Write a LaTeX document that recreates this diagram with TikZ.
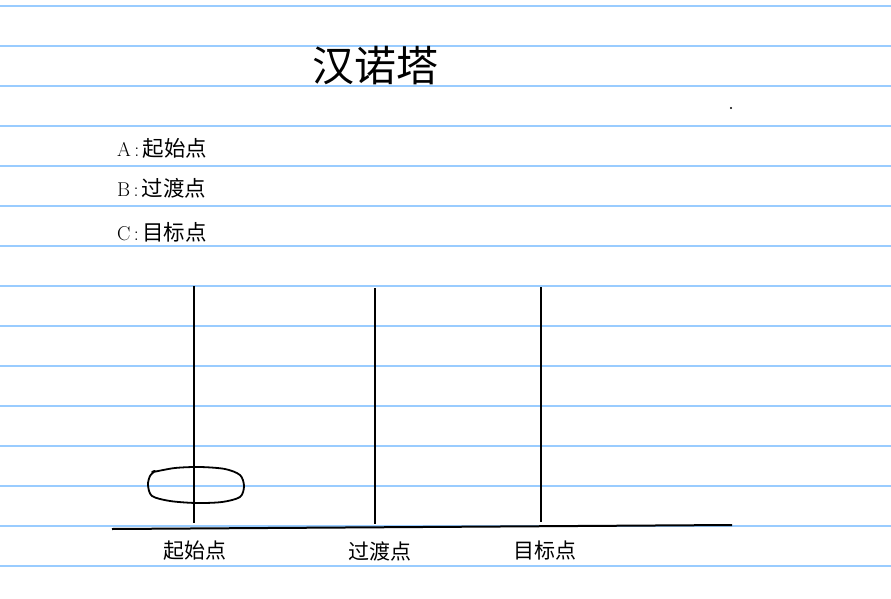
\documentclass[tikz,border=0pt]{standalone}
\usepackage{fontspec}
\newfontfamily\cjk{Noto Sans CJK SC}
\definecolor{rule}{HTML}{99CCFF}

\begin{document}
\begin{tikzpicture}[x=1pt,y=-1pt,
    pole/.style={line width=1.8pt},
    legend/.style={anchor=west,inner sep=0pt,font=\fontsize{20}{20}\selectfont},
    base/.style={inner sep=0pt,font=\cjk\fontsize{21}{21}\selectfont}]
    \useasboundingbox (0,0) rectangle (891,599);
    \fill[white] (0,0) rectangle (891,599);

    % ruled paper
    \foreach \y in {6,46,...,566}
    \draw[rule,line width=1.2pt] (0,\y) -- (891,\y);

    \node[inner sep=0pt,font=\cjk\fontsize{42}{42}\selectfont] (title) at (375,66) {汉诺塔};
    \fill (731,108) circle (1.2);

    \node[legend] (la) at (117,148) {A\,:\,{\cjk\fontsize{21.5}{21.5}\selectfont 起始点}};
    \node[legend] (lb) at (117,188) {B\,:\,{\cjk\fontsize{21.5}{21.5}\selectfont 过渡点}};
    \node[legend] (lc) at (117,232) {C\,:\,{\cjk\fontsize{21.5}{21.5}\selectfont 目标点}};

    % poles and base
    \coordinate (gl) at (112,529);
    \coordinate (gr) at (732,525);
    \draw[line width=2pt] (gl) -- (gr);
    \foreach \n/\x/\t/\b in {A/194/286/523,B/375/288/524,C/541/287/522} {
      \coordinate (top\n) at (\x,\t);
      \coordinate (bot\n) at (\x,\b);
      \draw[pole] (top\n) -- (bot\n);
    }

    \node[base] (na) at (195,551) {起始点};
    \node[base] (nb) at (380,551) {过渡点};
    \node[base] (nc) at (545,551) {目标点};

    % the disk
    \draw[line width=1.8pt,line join=round] plot[smooth cycle] coordinates {
      (153,472) (175,468) (200,467) (225,469) (240,475) (244,486)
      (240,497) (222,502) (196,503) (170,501) (152,496) (148,485) (150,476) (155,471)};
\end{tikzpicture}
\end{document}
